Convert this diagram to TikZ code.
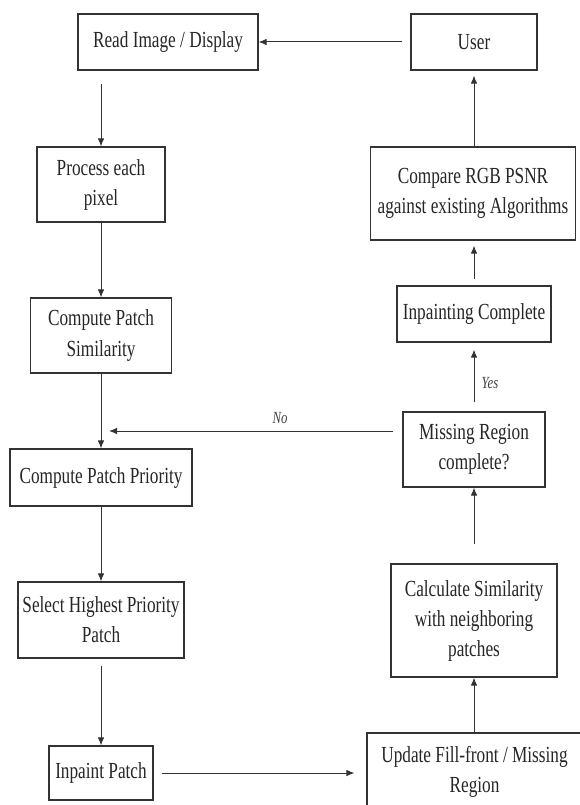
\documentclass[tikz,border=0pt]{standalone}
\usepackage{fontspec}
\setmainfont[FakeStretch=0.75]{Liberation Serif}
\usetikzlibrary{arrows.meta}
\begin{document}
\begin{tikzpicture}[x=1pt,y=-1pt,
  box/.style={draw=black!80, line width=1.1pt, align=center, inner sep=2pt,
    font=\fontsize{23}{30}\selectfont, text=black!85},
  arr/.style={draw=black!80, line width=1pt, -{Latex[length=8pt,width=6.5pt]}},
  lbl/.style={font=\fontsize{17}{19}\selectfont\itshape, text=black!75}]
\useasboundingbox (0,0) rectangle (580,805);
\fill[white] (0,0) rectangle (580,805);
% left column
\node[box, minimum width=180pt, minimum height=56pt] (read) at (168,42) {Read Image / Display};
\node[box, minimum width=128pt, minimum height=75pt] (proc) at (101,184.5) {Process each\\pixel};
\node[box, minimum width=141pt, minimum height=75pt] (sim) at (101,335.5) {Compute Patch\\Similarity};
\node[box, minimum width=182pt, minimum height=57pt] (prio) at (101,477.5) {Compute Patch Priority};
\node[box, minimum width=166pt, minimum height=76pt] (sel) at (101,620) {Select Highest Priority\\Patch};
\node[box, minimum width=104pt, minimum height=54pt] (inp) at (101,773) {Inpaint Patch};
% right column
\node[box, minimum width=126pt, minimum height=56pt] (user) at (474,42) {User};
\node[box, minimum width=205pt, minimum height=93pt] (cmp) at (473,193.5) {Compare RGB PSNR\\against existing Algorithms};
\node[box, minimum width=154pt, minimum height=56pt] (done) at (474,314) {Inpainting Complete};
\node[box, minimum width=142pt, minimum height=75pt] (miss) at (474,449.5) {Missing Region\\complete?};
\node[box, minimum width=166pt, minimum height=113pt] (calc) at (474,620.5) {Calculate Similarity\\with neighboring\\patches};
\node[box, minimum width=215pt, minimum height=78pt] (upd) at (474.5,772) {Update Fill-front / Missing\\Region};
% connectors
\draw[arr, shorten <=8pt] (user.west |- read.east) -- (read.east);
\draw[arr, shorten <=13pt] (read.south -| proc.north) -- (proc.north);
\draw[arr] (proc.south) -- (sim.north);
\draw[arr] (sim.south) -- (prio.north);
\draw[arr] (prio.south) -- (sel.north);
\draw[arr, shorten <=7pt] (sel.south) -- (inp.north);
\draw[arr, shorten <=8pt, shorten >=12pt] (inp.east) -- (upd.west |- inp.east);
\draw[arr] (calc.south |- upd.north) -- (calc.south);
\draw[arr, shorten <=19pt] (calc.north) -- (miss.south);
\coordinate (noend) at (109,431);
\draw[arr, shorten <=9pt] (miss.west |- noend) -- (noend);
\node[lbl] (no) at (280,418) {No};
\draw[arr, shorten <=9pt, shorten >=7pt] (miss.north) -- (done.south);
\node[lbl] (yes) at (490,383) {Yes};
\draw[arr, shorten <=6pt, shorten >=5pt] (done.north) -- (done.north |- cmp.south);
\draw[arr, shorten >=5pt] (user.south |- cmp.north) -- (user.south);
\end{tikzpicture}
\end{document}
